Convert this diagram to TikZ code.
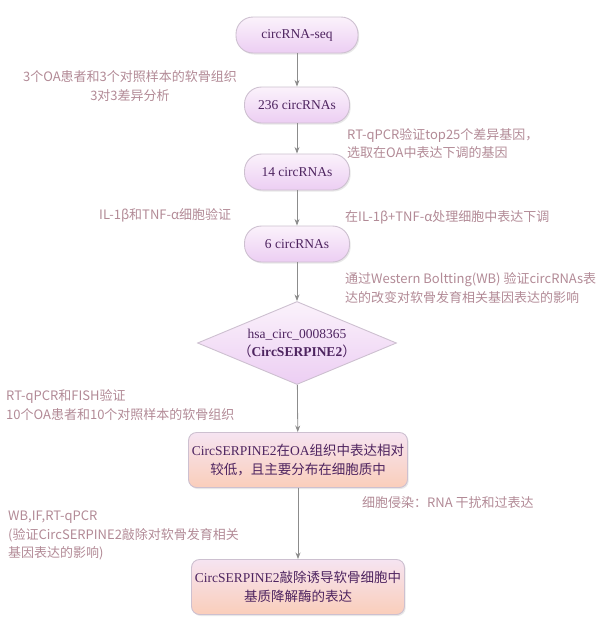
\documentclass[tikz,border=0pt]{standalone}
\usepackage{fontspec}
\setmainfont{Liberation Serif}
\newfontfamily\cjk{Noto Sans CJK SC}
\usetikzlibrary{arrows.meta,positioning,shapes.geometric,shadows}

\definecolor{noteText}{RGB}{178,138,150}
\definecolor{nodeText}{RGB}{78,36,96}
\definecolor{edgeLine}{RGB}{205,192,208}
\definecolor{pillTop}{RGB}{251,242,251}
\definecolor{pillBot}{RGB}{236,206,243}
\definecolor{peachTop}{RGB}{246,228,242}
\definecolor{peachBot}{RGB}{250,206,186}
\definecolor{flowGray}{RGB}{140,140,140}

\begin{document}
\begin{tikzpicture}[x=1pt, y=-1pt, >=Stealth, font=\fontsize{13.5}{18}\selectfont,
    pill/.style={draw=edgeLine, line width=0.9pt, rounded corners=17pt,
        top color=pillTop, bottom color=pillBot, text=nodeText,
        minimum height=36pt, inner sep=2pt,
        drop shadow={opacity=0.18, shadow xshift=1.2pt, shadow yshift=-1.5pt}},
    decision/.style={diamond, draw=edgeLine, line width=0.9pt, aspect=2.4,
        top color=pillTop, bottom color=pillBot, text=nodeText,
        minimum width=199pt, minimum height=83pt, inner sep=0pt, align=center},
    result/.style={draw=edgeLine, line width=0.9pt, rounded corners=8pt,
        top color=peachTop, bottom color=peachBot, text=nodeText,
        minimum width=210pt, minimum height=55pt, align=center,
        font=\fontsize{13.5}{19}\selectfont,
        drop shadow={opacity=0.18, shadow xshift=1.2pt, shadow yshift=-1.5pt}},
    note/.style={font=\cjk\fontsize{13}{18.5}\selectfont, text=noteText,
        inner sep=0pt, align=left},
    flow/.style={->, draw=flowGray, line width=0.8pt}]
    % canvas
    \useasboundingbox (0,0) rectangle (616,627);

    % Main column
    \node[pill, minimum width=122pt] (seq) at (297,35) {circRNA-seq};
    \node[pill, minimum width=105pt] (c236) at (297,105) {236 circRNAs};
    \node[pill, minimum width=105pt] (c14) at (297,172) {14 circRNAs};
    \node[pill, minimum width=105pt] (c6) at (297,244) {6 circRNAs};
    \node[decision] (hsa) at (297,343) {hsa\_circ\_0008365\\{\cjk（}\textbf{CircSERPINE2}{\cjk）}};
    \node[result] (low) at (298,460) {CircSERPINE2{\cjk 在}OA{\cjk 组织中表达相对}\\{\cjk 较低，且主要分布在细胞质中}};
    \node[result] (knock) at (298,587) {CircSERPINE2{\cjk 敲除诱导软骨细胞中}\\{\cjk 基质降解酶的表达}};

    % Connectors
    \draw[flow] (seq) -- (c236);
    \draw[flow] (c236) -- (c14);
    \draw[flow] (c14) -- (c6);
    \draw[flow] (c6) -- (hsa);
    \draw[flow] (hsa) -- (low);
    \draw[flow] (low) -- (knock);

    % Notes, left side
    \node[note, align=center] (seqnote) at (130,86) {3个OA患者和3个对照样本的软骨组织\\3对3差异分析};
    \node[note, anchor=west] (cellnote) at (99,215) {IL-1β和TNF-α细胞验证};
    \node[note, anchor=west] (fishnote) at (6,405) {RT-qPCR和FISH验证\\10个OA患者和10个对照样本的软骨组织};
    \node[note, anchor=west] (wbnote) at (8,535.5) {WB,IF,RT-qPCR\\(验证CircSERPINE2敲除对软骨发育相关\\基因表达的影响)};

    % Notes, right side
    \node[note, anchor=west] (pcrnote) at (347,143.5) {RT-qPCR验证top25个差异基因，\\选取在OA中表达下调的基因};
    \node[note, anchor=west] (downnote) at (345,217) {在IL-1β+TNF-α处理细胞中表达下调};
    \node[note, anchor=west] (westnote) at (345,288) {通过Western Boltting(WB) 验证circRNAs表\\达的改变对软骨发育相关基因表达的影响};
    \node[note, anchor=west] (rnainote) at (362,503) {细胞侵染：RNA 干扰和过表达};
\end{tikzpicture}
\end{document}
